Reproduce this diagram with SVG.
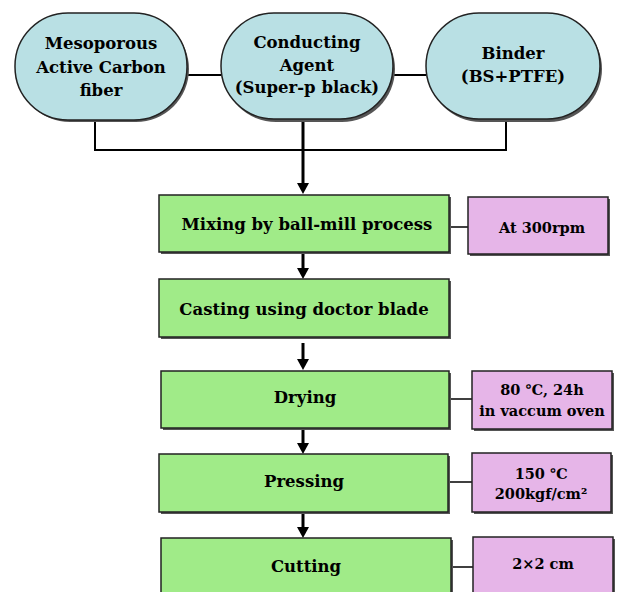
<svg xmlns="http://www.w3.org/2000/svg" width="619" height="592" viewBox="0 0 619 592">
<defs>
<style>
.t{font-family:"DejaVu Serif","Liberation Serif",serif;font-weight:bold;font-size:16.5px;fill:#000;text-anchor:middle}
.s{font-size:14.5px}
.oval{fill:#b9e0e4;stroke:#222;stroke-width:1.5}
.step{fill:#a0eb88;stroke:#222;stroke-width:1.5}
.cond{fill:#e6b5e8;stroke:#222;stroke-width:1.5}
.sh{fill:#555}
.thin{stroke:#000;stroke-width:2;fill:none}
.thick{stroke:#000;stroke-width:3;fill:none}
.lk{stroke:#000;stroke-width:1.5;fill:none}
</style>
</defs>
<rect width="619" height="592" fill="#fff"/>
<g id="connectors">
<line class="thin" x1="187" y1="75" x2="221" y2="75"/>
<line class="thin" x1="393" y1="75" x2="426" y2="75"/>
<polyline class="thin" points="95,120 95,150 506,150 506,119"/>
<line class="thick" x1="303" y1="119" x2="303" y2="185"/>
<path d="M297,183 L309,183 L303,194 Z" fill="#000"/>
<line class="thick" x1="303" y1="253" x2="303" y2="270"/>
<path d="M297,268 L309,268 L303,279 Z" fill="#000"/>
<line class="thick" x1="303" y1="343" x2="303" y2="361"/>
<path d="M297,359 L309,359 L303,370 Z" fill="#000"/>
<line class="thick" x1="303" y1="429" x2="303" y2="445"/>
<path d="M297,443 L309,443 L303,454 Z" fill="#000"/>
<line class="thick" x1="303" y1="513" x2="303" y2="528"/>
<path d="M297,527 L309,527 L303,538 Z" fill="#000"/>
<line class="lk" x1="449" y1="227" x2="468" y2="227"/>
<line class="lk" x1="449" y1="399" x2="472" y2="399"/>
<line class="lk" x1="448" y1="482" x2="472" y2="482"/>
<line class="lk" x1="451" y1="567" x2="473" y2="567"/>
</g>
<g id="n1">
<rect class="sh" x="17" y="16" width="172" height="106" rx="53"/>
<rect class="oval" x="15" y="13" width="172" height="107" rx="53"/>
<text class="t" x="101" y="49">Mesoporous</text>
<text class="t" x="101" y="73">Active Carbon</text>
<text class="t" x="101" y="96">fiber</text>
</g>
<g id="n2">
<rect class="sh" x="223" y="16" width="172" height="106" rx="53"/>
<rect class="oval" x="221" y="13" width="172" height="106" rx="53"/>
<text class="t" x="307" y="48">Conducting</text>
<text class="t" x="307" y="71">Agent</text>
<text class="t" x="307" y="93">(Super-p black)</text>
</g>
<g id="n3">
<rect class="sh" x="428" y="16" width="174" height="106" rx="53"/>
<rect class="oval" x="426" y="13" width="174" height="106" rx="53"/>
<text class="t" x="513" y="59">Binder</text>
<text class="t" x="513" y="82">(BS+PTFE)</text>
</g>
<g id="s1">
<rect class="sh" x="161" y="197" width="290" height="57"/>
<rect class="step" x="159" y="195" width="290" height="57"/>
<text class="t" x="307" y="230">Mixing by ball-mill process</text>
</g>
<g id="c1">
<rect class="sh" x="470" y="199" width="140" height="57"/>
<rect class="cond" x="468" y="197" width="140" height="57"/>
<text class="t s" x="542" y="233">At 300rpm</text>
</g>
<g id="s2">
<rect class="sh" x="161" y="281" width="290" height="58"/>
<rect class="step" x="159" y="279" width="290" height="58"/>
<text class="t" x="304" y="315">Casting using doctor blade</text>
</g>
<g id="s3">
<rect class="sh" x="163" y="373" width="288" height="57"/>
<rect class="step" x="161" y="371" width="288" height="57"/>
<text class="t" x="305" y="403">Drying</text>
</g>
<g id="c3">
<rect class="sh" x="474" y="373" width="140" height="58"/>
<rect class="cond" x="472" y="371" width="140" height="58"/>
<text class="t s" x="542" y="395">80 ℃, 24h</text>
<text class="t s" x="542" y="416">in vaccum oven</text>
</g>
<g id="s4">
<rect class="sh" x="161" y="456" width="289" height="58"/>
<rect class="step" x="159" y="454" width="289" height="58"/>
<text class="t" x="304" y="487">Pressing</text>
</g>
<g id="c4">
<rect class="sh" x="474" y="455" width="139" height="59"/>
<rect class="cond" x="472" y="453" width="139" height="59"/>
<text class="t s" x="541" y="479">150 ℃</text>
<text class="t s" x="541" y="499">200kgf/cm²</text>
</g>
<g id="s5">
<rect class="sh" x="163" y="540" width="290" height="60"/>
<rect class="step" x="161" y="538" width="290" height="60"/>
<text class="t" x="306" y="572">Cutting</text>
</g>
<g id="c5">
<rect class="sh" x="475" y="539" width="140" height="60"/>
<rect class="cond" x="473" y="537" width="140" height="60"/>
<text class="t s" x="543" y="569">2×2 cm</text>
</g>
</svg>
